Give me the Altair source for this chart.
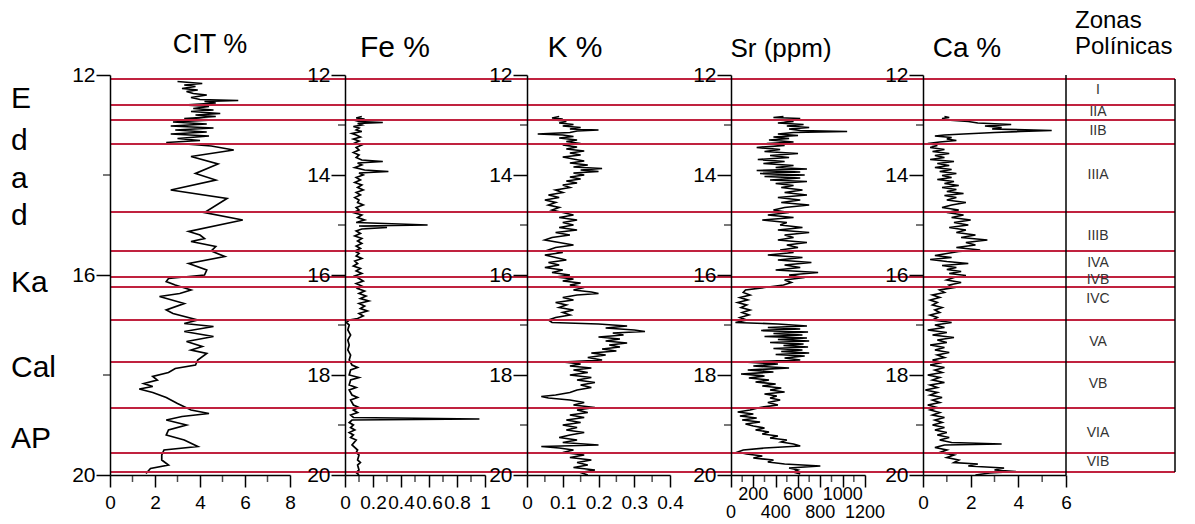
import altair as alt
import pandas as pd

FONT = "Liberation Sans"
RED = "#c0223f"
INK = "black"

# ---------------- data ----------------
zone_bounds = [12.08, 12.6, 12.9, 13.38, 14.74, 15.52, 16.04, 16.24, 16.9, 17.74, 18.66, 19.56, 19.94]
zone_names = ["I", "IIA", "IIB", "IIIA", "IIIB", "IVA", "IVB", "IVC", "VA", "VB", "VIA", "VIB"]
zone_label_depth = [12.3, 12.74, 13.12, 14.0, 15.22, 15.76, 16.1, 16.48, 17.34, 18.18, 19.16, 19.74]

side_labels = ["E", "d", "a", "d", "Ka", "Cal", "AP"]
side_label_depth = [12.66, 13.5, 14.26, 15.0, 16.34, 18.04, 19.46]

depth_major = [12, 14, 16, 18, 20]
depth_minor = [13, 15, 17, 19]
cit_depth_major = [12, 16, 20]
cit_depth_minor = [14, 18]

cit_ticks_major = [0, 2, 4, 6, 8]
cit_ticks_minor = [1, 3, 5, 7]
fe_ticks_major = [0, 0.2, 0.4, 0.6, 0.8, 1]
fe_ticks_minor = [0.1, 0.3, 0.5, 0.7, 0.9]
k_ticks_major = [0, 0.1, 0.2, 0.3, 0.4]
k_ticks_minor = [0.05, 0.15, 0.25, 0.35]
sr_ticks_major = [0, 200, 400, 600, 800, 1000, 1200]
sr_ticks_minor = [100, 300, 500, 700, 900, 1100]
sr_labels_upper = [200, 600, 1000]
sr_labels_lower = [0, 400, 800, 1200]
ca_ticks_major = [0, 2, 4, 6]
ca_ticks_minor = [1, 3, 5]

cit_points = [
    (12.13, 3.0), (12.17, 4.1), (12.2, 3.3), (12.23, 3.8), (12.27, 3.2), (12.3, 3.9), (12.33, 3.4),
    (12.37, 3.7), (12.4, 4.3), (12.45, 3.6), (12.49, 4.0), (12.51, 5.7), (12.53, 4.2), (12.56, 4.7),
    (12.6, 3.3), (12.63, 4.4), (12.67, 3.7), (12.7, 4.6), (12.73, 3.6), (12.77, 4.9), (12.8, 3.8),
    (12.83, 4.7), (12.87, 3.3), (12.9, 4.6), (12.94, 2.8), (12.98, 4.3), (13.02, 2.7), (13.06, 4.6),
    (13.1, 2.9), (13.14, 4.3), (13.18, 2.7), (13.22, 4.4), (13.27, 3.0), (13.31, 4.0), (13.35, 2.5),
    (13.42, 4.5), (13.5, 5.5), (13.63, 3.6), (13.78, 4.8), (13.97, 3.8), (14.1, 4.7), (14.3, 2.7),
    (14.47, 5.2), (14.75, 4.2), (14.9, 5.9), (15.13, 3.5), (15.2, 4.0), (15.27, 4.2), (15.33, 3.6),
    (15.43, 4.7), (15.52, 4.5), (15.63, 5.1), (15.77, 3.5), (15.9, 4.3), (16.0, 4.2), (16.07, 2.6),
    (16.13, 2.5), (16.2, 2.9), (16.3, 3.6), (16.37, 3.1), (16.43, 2.2), (16.57, 3.3), (16.7, 2.5),
    (16.77, 2.8), (16.9, 3.9), (16.97, 3.3), (17.03, 4.6), (17.13, 3.3), (17.23, 4.6), (17.33, 3.4),
    (17.43, 4.1), (17.5, 3.6), (17.57, 4.3), (17.7, 3.9), (17.8, 3.8), (17.87, 2.9), (17.95, 2.6),
    (18.03, 1.9), (18.1, 2.1), (18.17, 1.5), (18.23, 1.9), (18.28, 1.3), (18.35, 1.9), (18.45, 2.5),
    (18.57, 3.0), (18.7, 3.6), (18.77, 4.4), (18.83, 3.2), (18.9, 2.5), (19.0, 3.4), (19.1, 2.6),
    (19.2, 2.5), (19.3, 3.3), (19.43, 3.9), (19.5, 2.4), (19.6, 2.3), (19.7, 2.3), (19.8, 2.6),
    (19.87, 1.8), (19.97, 1.6),
]

fe_points = [
    (12.83, 0.12), (12.86, 0.08), (12.88, 0.14), (12.9, 0.06), (12.93, 0.1), (12.95, 0.27), (12.97, 0.09),
    (13.0, 0.12), (13.03, 0.06), (13.06, 0.1), (13.1, 0.08), (13.13, 0.12), (13.17, 0.05), (13.2, 0.08),
    (13.24, 0.11), (13.28, 0.06), (13.32, 0.1), (13.36, 0.07), (13.4, 0.12), (13.45, 0.08), (13.5, 0.1),
    (13.55, 0.06), (13.6, 0.1), (13.65, 0.08), (13.7, 0.12), (13.73, 0.27), (13.76, 0.09), (13.8, 0.12),
    (13.85, 0.07), (13.9, 0.14), (13.93, 0.31), (13.96, 0.1), (14.0, 0.13), (14.05, 0.08), (14.1, 0.11),
    (14.15, 0.07), (14.2, 0.12), (14.25, 0.09), (14.3, 0.13), (14.35, 0.08), (14.4, 0.11), (14.45, 0.07),
    (14.5, 0.1), (14.55, 0.09), (14.6, 0.13), (14.65, 0.08), (14.7, 0.1), (14.75, 0.06), (14.8, 0.12),
    (14.85, 0.09), (14.9, 0.14), (14.95, 0.08), (15.0, 0.59), (15.02, 0.1), (15.05, 0.3), (15.08, 0.12),
    (15.12, 0.08), (15.17, 0.11), (15.22, 0.07), (15.27, 0.12), (15.32, 0.09), (15.37, 0.12), (15.42, 0.08),
    (15.47, 0.11), (15.52, 0.07), (15.57, 0.1), (15.62, 0.08), (15.67, 0.12), (15.72, 0.07), (15.77, 0.09),
    (15.82, 0.06), (15.87, 0.11), (15.92, 0.08), (15.97, 0.12), (16.02, 0.07), (16.07, 0.1), (16.12, 0.13),
    (16.17, 0.08), (16.22, 0.12), (16.27, 0.09), (16.32, 0.14), (16.37, 0.1), (16.42, 0.15), (16.47, 0.11),
    (16.52, 0.17), (16.57, 0.1), (16.62, 0.14), (16.67, 0.11), (16.72, 0.16), (16.77, 0.1), (16.82, 0.13),
    (16.87, 0.09), (16.9, 0.03), (16.95, 0.01), (17.0, 0.03), (17.1, 0.02), (17.2, 0.04), (17.3, 0.02),
    (17.4, 0.03), (17.5, 0.02), (17.6, 0.04), (17.7, 0.03), (17.8, 0.05), (17.85, 0.09), (17.9, 0.04),
    (18.0, 0.03), (18.05, 0.1), (18.1, 0.04), (18.2, 0.03), (18.25, 0.08), (18.3, 0.03), (18.4, 0.05),
    (18.45, 0.09), (18.5, 0.04), (18.6, 0.06), (18.65, 0.1), (18.7, 0.06), (18.75, 0.09), (18.8, 0.04),
    (18.85, 0.06), (18.88, 0.96), (18.9, 0.05), (18.95, 0.03), (19.0, 0.06), (19.05, 0.04), (19.1, 0.07),
    (19.15, 0.03), (19.2, 0.06), (19.25, 0.04), (19.3, 0.08), (19.4, 0.05), (19.5, 0.09), (19.55, 0.08),
    (19.6, 0.1), (19.7, 0.09), (19.75, 0.11), (19.8, 0.09), (19.9, 0.1), (19.95, 0.08), (20.0, 0.1),
]

k_points = [
    (12.83, 0.09), (12.86, 0.07), (12.88, 0.1), (12.9, 0.08), (12.93, 0.11), (12.96, 0.09), (12.99, 0.13),
    (13.02, 0.1), (13.05, 0.15), (13.08, 0.12), (13.1, 0.2), (13.12, 0.14), (13.15, 0.12), (13.18, 0.03),
    (13.2, 0.1), (13.23, 0.13), (13.26, 0.09), (13.3, 0.14), (13.33, 0.11), (13.37, 0.15), (13.4, 0.1),
    (13.44, 0.14), (13.48, 0.11), (13.52, 0.16), (13.56, 0.12), (13.6, 0.15), (13.64, 0.1), (13.68, 0.13),
    (13.72, 0.16), (13.76, 0.12), (13.8, 0.17), (13.84, 0.13), (13.87, 0.21), (13.9, 0.15), (13.93, 0.2),
    (13.96, 0.13), (14.0, 0.16), (14.04, 0.12), (14.08, 0.15), (14.12, 0.11), (14.16, 0.14), (14.2, 0.1),
    (14.25, 0.12), (14.3, 0.08), (14.35, 0.1), (14.4, 0.06), (14.45, 0.09), (14.5, 0.05), (14.55, 0.08),
    (14.6, 0.06), (14.65, 0.09), (14.7, 0.07), (14.75, 0.1), (14.8, 0.13), (14.85, 0.09), (14.9, 0.14),
    (14.95, 0.1), (15.0, 0.13), (15.05, 0.09), (15.1, 0.14), (15.15, 0.08), (15.2, 0.12), (15.25, 0.07),
    (15.3, 0.05), (15.35, 0.09), (15.4, 0.13), (15.45, 0.08), (15.5, 0.06), (15.55, 0.1), (15.6, 0.05),
    (15.65, 0.08), (15.7, 0.11), (15.75, 0.06), (15.8, 0.09), (15.85, 0.05), (15.9, 0.1), (15.95, 0.07),
    (16.0, 0.12), (16.04, 0.08), (16.08, 0.13), (16.12, 0.1), (16.16, 0.15), (16.2, 0.12), (16.25, 0.16),
    (16.3, 0.13), (16.34, 0.18), (16.37, 0.2), (16.4, 0.14), (16.45, 0.1), (16.5, 0.13), (16.55, 0.08),
    (16.6, 0.11), (16.65, 0.09), (16.7, 0.13), (16.75, 0.1), (16.8, 0.12), (16.85, 0.08), (16.9, 0.06),
    (16.95, 0.07), (16.98, 0.2), (17.02, 0.28), (17.06, 0.22), (17.1, 0.3), (17.13, 0.33), (17.16, 0.24),
    (17.2, 0.27), (17.24, 0.2), (17.28, 0.26), (17.32, 0.22), (17.36, 0.28), (17.4, 0.23), (17.44, 0.26),
    (17.48, 0.21), (17.52, 0.25), (17.56, 0.18), (17.6, 0.22), (17.65, 0.17), (17.7, 0.21), (17.74, 0.1),
    (17.78, 0.15), (17.82, 0.12), (17.86, 0.18), (17.9, 0.13), (17.95, 0.17), (18.0, 0.12), (18.05, 0.18),
    (18.1, 0.14), (18.15, 0.19), (18.2, 0.15), (18.25, 0.18), (18.3, 0.14), (18.35, 0.12), (18.4, 0.08),
    (18.43, 0.04), (18.46, 0.06), (18.5, 0.12), (18.55, 0.16), (18.6, 0.13), (18.65, 0.19), (18.7, 0.14),
    (18.75, 0.17), (18.8, 0.12), (18.85, 0.16), (18.9, 0.11), (18.95, 0.15), (19.0, 0.1), (19.05, 0.14),
    (19.1, 0.11), (19.15, 0.16), (19.2, 0.12), (19.25, 0.09), (19.3, 0.14), (19.35, 0.1), (19.4, 0.2),
    (19.43, 0.04), (19.46, 0.09), (19.5, 0.13), (19.55, 0.1), (19.6, 0.16), (19.65, 0.12), (19.7, 0.18),
    (19.75, 0.14), (19.8, 0.17), (19.85, 0.13), (19.9, 0.19), (19.95, 0.15), (20.0, 0.17),
]

sr_points = [
    (12.83, 470), (12.85, 380), (12.87, 620), (12.9, 450), (12.93, 560), (12.96, 420), (12.99, 650),
    (13.02, 500), (13.05, 700), (13.08, 520), (13.11, 620), (13.13, 1040), (13.15, 560), (13.18, 420),
    (13.21, 600), (13.24, 380), (13.27, 520), (13.3, 340), (13.34, 560), (13.37, 320), (13.41, 480),
    (13.45, 230), (13.49, 440), (13.53, 300), (13.57, 600), (13.61, 350), (13.65, 520), (13.69, 240),
    (13.73, 480), (13.77, 290), (13.81, 560), (13.85, 400), (13.88, 680), (13.91, 230), (13.94, 620),
    (13.97, 260), (14.0, 660), (14.03, 300), (14.06, 620), (14.1, 350), (14.13, 680), (14.17, 400),
    (14.21, 560), (14.25, 450), (14.3, 640), (14.35, 480), (14.4, 680), (14.45, 420), (14.5, 620),
    (14.55, 450), (14.6, 700), (14.65, 480), (14.7, 380), (14.75, 520), (14.8, 330), (14.85, 560),
    (14.9, 280), (14.95, 500), (15.0, 440), (15.05, 640), (15.1, 420), (15.15, 700), (15.2, 480),
    (15.25, 560), (15.3, 420), (15.35, 680), (15.4, 500), (15.45, 600), (15.5, 440), (15.55, 560),
    (15.6, 330), (15.65, 640), (15.7, 420), (15.75, 720), (15.8, 480), (15.85, 620), (15.9, 400),
    (15.95, 780), (16.0, 520), (16.05, 660), (16.1, 480), (16.15, 540), (16.2, 470), (16.25, 300),
    (16.3, 130), (16.35, 110), (16.4, 170), (16.45, 80), (16.5, 150), (16.55, 60), (16.6, 140),
    (16.65, 90), (16.7, 170), (16.75, 100), (16.8, 160), (16.85, 80), (16.9, 140), (16.95, 40),
    (16.98, 420), (17.02, 680), (17.05, 330), (17.08, 620), (17.11, 270), (17.14, 690), (17.17, 380),
    (17.2, 640), (17.23, 300), (17.26, 680), (17.29, 420), (17.32, 700), (17.35, 350), (17.38, 650),
    (17.41, 470), (17.44, 690), (17.47, 380), (17.5, 640), (17.53, 450), (17.56, 700), (17.59, 400),
    (17.62, 660), (17.66, 480), (17.7, 620), (17.74, 110), (17.78, 420), (17.82, 200), (17.86, 520),
    (17.9, 150), (17.94, 380), (17.98, 90), (18.02, 300), (18.06, 160), (18.1, 340), (18.14, 220),
    (18.18, 400), (18.22, 280), (18.26, 450), (18.3, 350), (18.34, 480), (18.38, 300), (18.42, 410),
    (18.46, 350), (18.5, 440), (18.55, 330), (18.6, 420), (18.65, 260), (18.7, 170), (18.74, 60),
    (18.78, 200), (18.82, 80), (18.86, 230), (18.9, 100), (18.94, 260), (18.98, 130), (19.02, 200),
    (19.06, 300), (19.1, 220), (19.14, 340), (19.18, 280), (19.22, 420), (19.26, 350), (19.3, 500),
    (19.34, 450), (19.38, 560), (19.42, 620), (19.46, 300), (19.5, 110), (19.54, 60), (19.58, 140),
    (19.62, 280), (19.66, 200), (19.7, 380), (19.74, 330), (19.78, 480), (19.82, 800), (19.86, 520),
    (19.9, 600), (19.94, 560), (19.98, 620),
]

ca_points = [
    (12.83, 0.9), (12.85, 1.1), (12.87, 0.8), (12.9, 1.0), (12.93, 1.9), (12.96, 2.3), (12.99, 3.7),
    (13.02, 2.6), (13.05, 3.3), (13.08, 2.9), (13.11, 5.4), (13.13, 4.1), (13.15, 3.0), (13.18, 1.7),
    (13.2, 0.9), (13.22, 0.5), (13.25, 1.2), (13.28, 1.0), (13.31, 1.4), (13.34, 0.7), (13.37, 0.2),
    (13.41, 0.6), (13.45, 0.3), (13.49, 0.9), (13.53, 0.4), (13.57, 1.1), (13.61, 0.5), (13.65, 0.9),
    (13.69, 0.3), (13.73, 1.3), (13.77, 0.6), (13.81, 1.1), (13.85, 0.5), (13.89, 1.2), (13.93, 0.7),
    (13.97, 1.4), (14.01, 0.8), (14.05, 1.2), (14.09, 0.6), (14.13, 1.3), (14.17, 0.9), (14.21, 1.5),
    (14.25, 0.8), (14.29, 1.4), (14.33, 1.0), (14.37, 1.7), (14.41, 0.9), (14.45, 1.4), (14.5, 1.0),
    (14.55, 1.8), (14.6, 1.2), (14.65, 0.8), (14.7, 1.5), (14.75, 1.0), (14.8, 1.7), (14.85, 1.2),
    (14.9, 2.0), (14.95, 1.3), (15.0, 1.9), (15.05, 1.1), (15.1, 1.8), (15.15, 1.4), (15.2, 2.2),
    (15.25, 1.6), (15.3, 2.7), (15.35, 1.8), (15.4, 2.2), (15.45, 1.4), (15.5, 2.4), (15.53, 1.5),
    (15.57, 1.0), (15.61, 0.5), (15.65, 1.2), (15.69, 0.3), (15.73, 1.0), (15.77, 1.9), (15.81, 0.8),
    (15.85, 1.4), (15.89, 1.0), (15.93, 1.6), (15.97, 1.1), (16.01, 1.8), (16.05, 1.3), (16.1, 1.0),
    (16.15, 1.6), (16.2, 1.1), (16.25, 1.3), (16.3, 0.7), (16.35, 0.9), (16.4, 0.4), (16.45, 0.7),
    (16.5, 0.3), (16.55, 0.6), (16.6, 0.4), (16.65, 0.8), (16.7, 0.5), (16.75, 0.7), (16.8, 0.3),
    (16.85, 0.6), (16.9, 0.4), (16.95, 1.2), (17.0, 0.5), (17.05, 0.9), (17.1, 0.2), (17.15, 1.0),
    (17.2, 0.4), (17.25, 1.3), (17.3, 0.6), (17.35, 1.0), (17.4, 0.3), (17.45, 0.9), (17.5, 0.5),
    (17.55, 1.1), (17.6, 0.6), (17.65, 0.9), (17.7, 0.4), (17.75, 0.8), (17.8, 0.3), (17.85, 0.9),
    (17.9, 0.5), (17.95, 0.8), (18.0, 0.2), (18.05, 0.7), (18.1, 0.4), (18.15, 0.9), (18.2, 0.3),
    (18.25, 0.6), (18.3, 0.1), (18.35, 0.6), (18.4, 0.3), (18.45, 0.8), (18.5, 0.4), (18.55, 0.7),
    (18.6, 0.2), (18.65, 0.6), (18.7, 0.3), (18.75, 0.7), (18.8, 0.4), (18.85, 0.9), (18.9, 0.5),
    (18.95, 0.8), (19.0, 0.4), (19.05, 0.9), (19.1, 0.5), (19.15, 1.0), (19.2, 0.6), (19.25, 1.1),
    (19.3, 0.7), (19.35, 1.2), (19.38, 3.3), (19.4, 0.9), (19.45, 0.5), (19.5, 1.0), (19.55, 0.7),
    (19.6, 1.3), (19.65, 1.0), (19.7, 1.5), (19.75, 1.3), (19.78, 2.3), (19.82, 1.9), (19.86, 3.4),
    (19.9, 3.0), (19.93, 3.9), (19.96, 2.8), (20.0, 2.2),
]

# ---------------- layout ----------------
H = 400
YSCALE = alt.Scale(domain=[12, 20], reverse=True, nice=False, zero=False)


def y_axis(values):
    return alt.Axis(values=values, title=None, orient="left", tickSize=14, tickWidth=1.5,
                    tickColor=INK, domainColor=INK, domainWidth=1.5, labelFont=FONT,
                    labelFontSize=21, labelColor=INK, labelPadding=1, labelOverlap=False,
                    labelFlush=False, grid=False, zindex=1)


def x_axis(values, show_labels=True):
    return alt.Axis(values=values, title=None, orient="bottom", tickSize=12, tickWidth=1.5,
                    tickColor=INK, domainColor=INK, domainWidth=1.5, labelFont=FONT,
                    labelFontSize=19, labelColor=INK, labelPadding=6, labelOverlap=False,
                    labelFlush=False, grid=False, zindex=1, labels=show_labels,
                    labelExpr="'' + datum.value")


def panel(points, domain, span, width, major, minor, ymaj, ymin, title, title_x, title_y,
          title_size, show_xlabels=True, upper=None, lower=None):
    xs = alt.Scale(domain=domain, range=[0, span], nice=False, zero=False)
    xa = x_axis(major, show_xlabels)
    ya = y_axis(ymaj)

    def X():
        return alt.X("value:Q", scale=xs, axis=xa)

    def Y():
        return alt.Y("depth:Q", scale=YSCALE, axis=ya)

    df = pd.DataFrame({"depth": [p[0] for p in points], "value": [p[1] for p in points],
                       "i": list(range(len(points)))})
    line = alt.Chart(df).mark_line(color=INK, strokeWidth=1.7).encode(
        x=X(), y=Y(), order=alt.Order("i:Q"))
    xminor = alt.Chart(pd.DataFrame({"value": minor, "depth": [20] * len(minor)})).mark_tick(
        orient="vertical", size=7, thickness=1.5, yOffset=3.5, color=INK).encode(x=X(), y=Y())
    yminor = alt.Chart(pd.DataFrame({"value": [domain[0]] * len(ymin), "depth": ymin})).mark_tick(
        orient="horizontal", size=7, thickness=1.5, xOffset=-3.5, color=INK).encode(x=X(), y=Y())
    reds = alt.Chart(pd.DataFrame({"depth": zone_bounds})).mark_rule(
        color=RED, strokeWidth=2).encode(y=Y(), x=alt.value(0), x2=alt.value(width))
    ttl = alt.Chart(pd.DataFrame({"t": [title]})).mark_text(
        font=FONT, fontSize=title_size, color=INK, align="center", baseline="alphabetic").encode(
        text="t:N", x=alt.value(title_x), y=alt.value(title_y))
    layers = [line, xminor, yminor, reds, ttl]
    for vals, dy in ((upper, 10.5), (lower, 28.5)):
        if vals:
            ldf = pd.DataFrame({"value": vals, "depth": [20] * len(vals),
                                "t": [str(v) for v in vals]})
            layers.append(alt.Chart(ldf).mark_text(
                font=FONT, fontSize=18, color=INK, align="center", baseline="top", dy=dy).encode(
                x=X(), y=Y(), text="t:N"))
    return alt.layer(*layers).properties(width=width, height=H)


side = alt.Chart(pd.DataFrame({"t": side_labels, "depth": side_label_depth})).mark_text(
    font=FONT, fontSize=30, color=INK, align="left", baseline="alphabetic").encode(
    x=alt.value(11), y=alt.Y("depth:Q", scale=YSCALE, axis=None), text="t:N").properties(
    width=110, height=H)

cit = panel(cit_points, [0, 8], 180, 235, cit_ticks_major, cit_ticks_minor,
            cit_depth_major, cit_depth_minor, "CIT %", 100, -22, 27)
fe = panel(fe_points, [0, 1], 140, 182, fe_ticks_major, fe_ticks_minor,
           depth_major, depth_minor, "Fe %", 50, -18, 30)
k = panel(k_points, [0, 0.4], 143, 204, k_ticks_major, k_ticks_minor,
          depth_major, depth_minor, "K %", 48, -18, 30)
sr = panel(sr_points, [0, 1200], 134, 192, sr_ticks_major, sr_ticks_minor,
           depth_major, depth_minor, "Sr (ppm)", 50, -18, 26, show_xlabels=False,
           upper=sr_labels_upper, lower=sr_labels_lower)
ca = panel(ca_points, [0, 6], 143, 143, ca_ticks_major, ca_ticks_minor,
           depth_major, depth_minor, "Ca %", 44, -18, 28)

ZW = 109
zy = alt.Y("depth:Q", scale=YSCALE, axis=None)
zone_reds = alt.Chart(pd.DataFrame({"depth": zone_bounds})).mark_rule(
    color=RED, strokeWidth=2).encode(y=zy, x=alt.value(0), x2=alt.value(ZW))
zone_left = alt.Chart(pd.DataFrame({"depth": [12], "depth2": [20]})).mark_rule(
    color=INK, strokeWidth=1.5).encode(y=zy, y2="depth2:Q", x=alt.value(0))
zone_right = alt.Chart(pd.DataFrame({"depth": [zone_bounds[0]], "depth2": [zone_bounds[-1]]})).mark_rule(
    color=INK, strokeWidth=1.5).encode(y=zy, y2="depth2:Q", x=alt.value(ZW))
zone_text = alt.Chart(pd.DataFrame({"t": zone_names, "depth": zone_label_depth})).mark_text(
    font=FONT, fontSize=14, color="#333333", align="center", baseline="middle").encode(
    y=zy, x=alt.value(32), text="t:N")
zone_title = alt.Chart(pd.DataFrame({"t": ["Zonas", "Polínicas"], "yy": [-47, -21]})).mark_text(
    font=FONT, fontSize=24, color=INK, align="left", baseline="alphabetic").encode(
    text="t:N", x=alt.value(9), y=alt.Y("yy:Q", scale=None, axis=None))
anchor = alt.Chart(pd.DataFrame({"a": [0]})).mark_rule(opacity=0, strokeWidth=1).encode(
    x=alt.value(0), y=alt.value(-74.5), y2=alt.value(-70))
zone = alt.layer(zone_reds, zone_left, zone_right, zone_text, zone_title, anchor).properties(
    width=ZW, height=H)

chart = alt.hconcat(side, cit, fe, k, sr, ca, zone, spacing=0, bounds="flush").configure_view(
    strokeWidth=0).properties(padding={"left": 0, "top": 0, "right": 0, "bottom": 0})

chart.save("out.html", embed_options={"renderer": "svg", "actions": False})
